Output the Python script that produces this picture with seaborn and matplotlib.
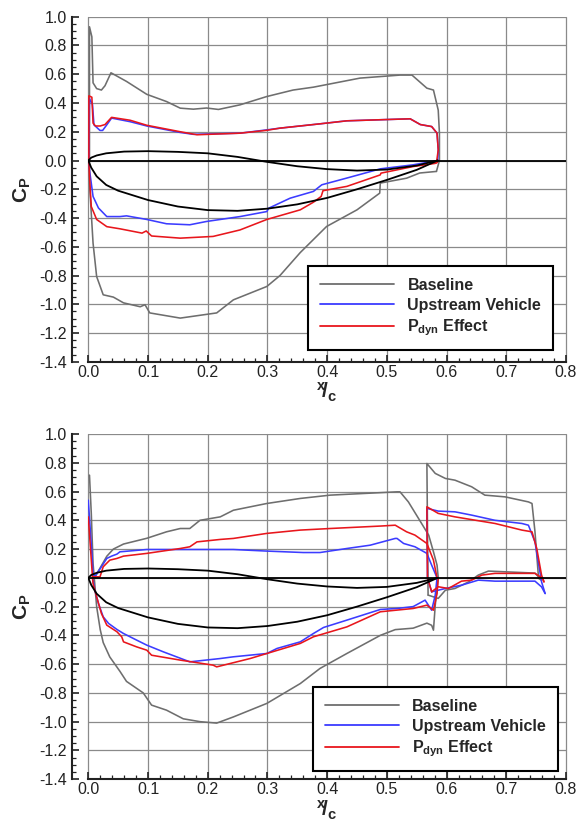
import pandas as pd
import matplotlib
matplotlib.use('Agg')
import matplotlib.pyplot as plt
import seaborn as sns
from matplotlib.lines import Line2D
from matplotlib.ticker import MultipleLocator, FormatStrFormatter

# ---- airfoil outline (first element), same in both panels ----
AF_UP_X = [0.0, 0.005, 0.014, 0.03, 0.06, 0.10, 0.15, 0.20, 0.25, 0.30, 0.35, 0.40, 0.45, 0.50, 0.55, 0.585]
AF_UP_CP = [0.0, 0.02, 0.035, 0.05, 0.062, 0.065, 0.06, 0.05, 0.025, -0.01, -0.04, -0.06, -0.07, -0.063, -0.035, 0.0]
AF_LO_X = [0.0, 0.005, 0.014, 0.03, 0.05, 0.10, 0.15, 0.20, 0.25, 0.30, 0.35, 0.40, 0.45, 0.50, 0.55, 0.585]
AF_LO_CP = [0.0, -0.05, -0.11, -0.17, -0.21, -0.275, -0.32, -0.345, -0.35, -0.335, -0.305, -0.26, -0.2, -0.135, -0.065, 0.0]

# ---- top panel ----
TOP_BASE_UP_X = [0.002, 0.002, 0.006, 0.008, 0.014, 0.022, 0.028, 0.038, 0.064, 0.098, 0.131, 0.154, 0.176, 0.198,
                 0.218, 0.254, 0.299, 0.343, 0.377, 0.455, 0.522, 0.542, 0.567, 0.578, 0.586, 0.588, 0.588, 0.583]
TOP_BASE_UP_CP = [0.0, 0.93, 0.86, 0.54, 0.50, 0.49, 0.52, 0.61, 0.55, 0.46, 0.41, 0.364, 0.357, 0.365,
                  0.355, 0.387, 0.445, 0.49, 0.51, 0.573, 0.594, 0.594, 0.503, 0.49, 0.35, 0.19, 0.0, -0.076]
TOP_BASE_LO_X = [0.002, 0.002, 0.008, 0.014, 0.025, 0.042, 0.059, 0.087, 0.095, 0.103, 0.154, 0.215, 0.243, 0.299,
                 0.321, 0.355, 0.399, 0.45, 0.488, 0.489, 0.533, 0.555, 0.583]
TOP_BASE_LO_CP = [0.0, -0.156, -0.575, -0.807, -0.934, -0.95, -0.99, -1.017, -1.003, -1.06, -1.096, -1.06, -0.969, -0.876,
                  -0.80, -0.64, -0.459, -0.343, -0.227, -0.157, -0.123, -0.087, -0.076]
TOP_UPV_UP_X = [0.001, 0.002, 0.007, 0.0095, 0.0196, 0.024, 0.031, 0.039, 0.07, 0.098, 0.154, 0.176, 0.254, 0.299,
                0.321, 0.388, 0.433, 0.539, 0.556, 0.575, 0.584, 0.586, 0.585]
TOP_UPV_UP_CP = [0.0, 0.43, 0.39, 0.248, 0.209, 0.209, 0.248, 0.295, 0.27, 0.24, 0.195, 0.182, 0.19, 0.213,
                 0.225, 0.255, 0.276, 0.29, 0.25, 0.236, 0.19, 0.074, 0.0]
TOP_UPV_LO_X = [0.001, 0.002, 0.008, 0.017, 0.031, 0.053, 0.064, 0.098, 0.131, 0.17, 0.198, 0.254, 0.299, 0.302,
                0.338, 0.377, 0.391, 0.433, 0.483, 0.489, 0.544, 0.585]
TOP_UPV_LO_CP = [0.0, -0.065, -0.25, -0.33, -0.39, -0.39, -0.385, -0.41, -0.44, -0.447, -0.424, -0.39, -0.355, -0.332,
                 -0.262, -0.215, -0.169, -0.122, -0.065, -0.058, -0.03, 0.0]
TOP_PDYN_UP_X = [0.001, 0.001, 0.006, 0.008, 0.012, 0.02, 0.028, 0.039, 0.07, 0.098, 0.154, 0.182, 0.254, 0.299,
                 0.321, 0.388, 0.433, 0.539, 0.556, 0.575, 0.584, 0.586, 0.583, 0.586]
TOP_PDYN_UP_CP = [0.0, 0.45, 0.44, 0.26, 0.24, 0.24, 0.25, 0.30, 0.28, 0.245, 0.20, 0.179, 0.19, 0.21,
                  0.225, 0.255, 0.276, 0.29, 0.25, 0.236, 0.19, 0.074, -0.018, 0.0]
TOP_PDYN_LO_X = [0.001, 0.002, 0.005, 0.014, 0.031, 0.053, 0.09, 0.097, 0.106, 0.154, 0.209, 0.254, 0.299, 0.355,
                 0.377, 0.39, 0.393, 0.433, 0.489, 0.49, 0.544, 0.581, 0.585]
TOP_PDYN_LO_CP = [0.0, -0.11, -0.32, -0.41, -0.46, -0.475, -0.505, -0.49, -0.525, -0.54, -0.528, -0.483, -0.41, -0.343,
                  -0.29, -0.25, -0.21, -0.18, -0.1, -0.088, -0.042, -0.02, 0.0]

# ---- bottom panel (two elements) ----
BOT_BASE_UP_X = [0.010, 0.020, 0.031, 0.042, 0.059, 0.098, 0.131, 0.154, 0.17, 0.187, 0.221, 0.243, 0.299, 0.355,
                 0.405, 0.517, 0.522, 0.536, 0.553, 0.57, 0.578, 0.584, 0.586]
BOT_BASE_UP_CP = [0.0, 0.07, 0.15, 0.2, 0.235, 0.275, 0.32, 0.343, 0.343, 0.40, 0.424, 0.47, 0.517, 0.552,
                  0.575, 0.598, 0.598, 0.528, 0.413, 0.297, 0.181, 0.088, 0.0]
BOT_BASE_LO_X = [0.002, 0.005, 0.008, 0.011, 0.014, 0.020, 0.025, 0.036, 0.053, 0.064, 0.092, 0.106, 0.131, 0.159,
                 0.187, 0.215, 0.243, 0.299, 0.355, 0.388, 0.433, 0.489, 0.514, 0.544, 0.567, 0.575, 0.578, 0.581, 0.586]
BOT_BASE_LO_CP = [0.714, 0.45, 0.10, -0.05, -0.20, -0.36, -0.45, -0.55, -0.65, -0.72, -0.80, -0.885, -0.92, -0.98,
                  -1.0, -1.01, -0.967, -0.873, -0.735, -0.63, -0.526, -0.40, -0.36, -0.35, -0.315, -0.33, -0.364, -0.19, 0.0]
BOT_BASE2_UP_X = [0.569, 0.567, 0.581, 0.598, 0.614, 0.642, 0.664, 0.698, 0.737, 0.743, 0.748, 0.754, 0.759]
BOT_BASE2_UP_CP = [-0.12, 0.795, 0.726, 0.691, 0.679, 0.633, 0.575, 0.563, 0.528, 0.517, 0.32, -0.004, -0.016]
BOT_BASE2_LO_X = [0.569, 0.586, 0.598, 0.614, 0.637, 0.653, 0.67, 0.748, 0.759]
BOT_BASE2_LO_CP = [-0.12, -0.143, -0.086, -0.074, -0.028, 0.019, 0.047, 0.033, -0.016]

BOT_UPV_UP_X = [0.008, 0.011, 0.022, 0.031, 0.039, 0.048, 0.053, 0.098, 0.154, 0.243, 0.299, 0.36, 0.388, 0.433,
                0.472, 0.514, 0.517, 0.528, 0.547, 0.567, 0.575, 0.584]
BOT_UPV_UP_CP = [0.03, 0.007, 0.077, 0.135, 0.151, 0.165, 0.181, 0.197, 0.197, 0.197, 0.186, 0.176, 0.176, 0.204,
                 0.227, 0.274, 0.274, 0.239, 0.216, 0.17, 0.088, 0.0]
BOT_UPV_LO_X = [0.0, 0.006, 0.008, 0.008, 0.011, 0.017, 0.025, 0.034, 0.048, 0.059, 0.081, 0.098, 0.126, 0.17,
                0.221, 0.243, 0.299, 0.316, 0.355, 0.377, 0.394, 0.433, 0.489, 0.517, 0.544, 0.564, 0.575, 0.581, 0.584]
BOT_UPV_LO_CP = [0.54, 0.17, 0.03, -0.016, -0.086, -0.178, -0.271, -0.317, -0.359, -0.387, -0.433, -0.468, -0.515, -0.584,
                 -0.561, -0.549, -0.526, -0.491, -0.445, -0.387, -0.345, -0.294, -0.22, -0.213, -0.2, -0.155, -0.225, -0.12, 0.0]
BOT_UPV2_UP_X = [0.575, 0.568, 0.567, 0.586, 0.614, 0.642, 0.681, 0.726, 0.737, 0.748, 0.759, 0.765]
BOT_UPV2_UP_CP = [-0.097, 0.0, 0.483, 0.464, 0.459, 0.436, 0.40, 0.378, 0.366, 0.25, -0.028, -0.109]
BOT_UPV2_LO_X = [0.575, 0.598, 0.625, 0.653, 0.681, 0.748, 0.759, 0.765]
BOT_UPV2_LO_CP = [-0.097, -0.074, -0.051, -0.016, -0.023, -0.023, -0.063, -0.109]

BOT_PDYN_UP_X = [0.007, 0.0196, 0.025, 0.036, 0.048, 0.059, 0.098, 0.154, 0.17, 0.182, 0.221, 0.243, 0.299, 0.355,
                 0.405, 0.489, 0.514, 0.533, 0.547, 0.567, 0.578, 0.584]
BOT_PDYN_UP_CP = [0.007, 0.007, 0.077, 0.123, 0.135, 0.151, 0.17, 0.204, 0.216, 0.25, 0.267, 0.274, 0.309, 0.332,
                  0.343, 0.36, 0.366, 0.32, 0.297, 0.239, 0.123, 0.0]
BOT_PDYN_LO_X = [0.0, 0.007, 0.008, 0.014, 0.022, 0.031, 0.048, 0.056, 0.059, 0.081, 0.098, 0.106, 0.154, 0.209,
                 0.215, 0.271, 0.299, 0.355, 0.377, 0.433, 0.489, 0.544, 0.567, 0.578, 0.584, 0.586]
BOT_PDYN_LO_CP = [0.424, 0.007, -0.039, -0.132, -0.248, -0.329, -0.375, -0.41, -0.445, -0.48, -0.503, -0.538, -0.572, -0.607,
                  -0.619, -0.561, -0.526, -0.456, -0.41, -0.341, -0.236, -0.213, -0.19, -0.225, -0.109, 0.0]
BOT_PDYN2_UP_X = [0.575, 0.568, 0.567, 0.586, 0.614, 0.681, 0.726, 0.743, 0.751, 0.759, 0.763]
BOT_PDYN2_UP_CP = [-0.097, 0.0, 0.494, 0.448, 0.424, 0.378, 0.332, 0.32, 0.204, 0.019, -0.028]
BOT_PDYN2_LO_X = [0.575, 0.586, 0.603, 0.625, 0.642, 0.659, 0.681, 0.748, 0.761, 0.763]
BOT_PDYN2_LO_CP = [-0.097, -0.062, -0.074, -0.023, -0.016, 0.019, 0.031, 0.031, -0.004, -0.028]

SERIES = ['Baseline', 'Upstream Vehicle', 'Pdyn Effect']
LABELS = ['Baseline', 'Upstream Vehicle', r'$\mathbf{P_{dyn}}$ Effect']
COLORS = ['#6e6e6e', '#3c3cff', '#e8161c']

TOP_CURVES = [
    ('Baseline', 'up', TOP_BASE_UP_X, TOP_BASE_UP_CP), ('Baseline', 'lo', TOP_BASE_LO_X, TOP_BASE_LO_CP),
    ('Upstream Vehicle', 'up', TOP_UPV_UP_X, TOP_UPV_UP_CP), ('Upstream Vehicle', 'lo', TOP_UPV_LO_X, TOP_UPV_LO_CP),
    ('Pdyn Effect', 'up', TOP_PDYN_UP_X, TOP_PDYN_UP_CP), ('Pdyn Effect', 'lo', TOP_PDYN_LO_X, TOP_PDYN_LO_CP),
]
BOT_CURVES = [
    ('Baseline', 'up', BOT_BASE_UP_X, BOT_BASE_UP_CP), ('Baseline', 'lo', BOT_BASE_LO_X, BOT_BASE_LO_CP),
    ('Baseline', 'up2', BOT_BASE2_UP_X, BOT_BASE2_UP_CP), ('Baseline', 'lo2', BOT_BASE2_LO_X, BOT_BASE2_LO_CP),
    ('Upstream Vehicle', 'up', BOT_UPV_UP_X, BOT_UPV_UP_CP), ('Upstream Vehicle', 'lo', BOT_UPV_LO_X, BOT_UPV_LO_CP),
    ('Upstream Vehicle', 'up2', BOT_UPV2_UP_X, BOT_UPV2_UP_CP), ('Upstream Vehicle', 'lo2', BOT_UPV2_LO_X, BOT_UPV2_LO_CP),
    ('Pdyn Effect', 'up', BOT_PDYN_UP_X, BOT_PDYN_UP_CP), ('Pdyn Effect', 'lo', BOT_PDYN_LO_X, BOT_PDYN_LO_CP),
    ('Pdyn Effect', 'up2', BOT_PDYN2_UP_X, BOT_PDYN2_UP_CP), ('Pdyn Effect', 'lo2', BOT_PDYN2_LO_X, BOT_PDYN2_LO_CP),
]


def to_frame(curves):
    rows = []
    for series, part, xs, cps in curves:
        for i, (x, cp) in enumerate(zip(xs, cps)):
            rows.append({'x': x, 'cp': cp, 'series': series, 'part': part, 'order': i})
    return pd.DataFrame(rows)


def draw_panel(ax, curves, legend_anchor):
    df = to_frame(curves)
    sns.lineplot(data=df, x='x', y='cp', hue='series', hue_order=SERIES, palette=COLORS,
                 units='part', estimator=None, sort=False, lw=1.15, legend=False, ax=ax)
    ax.axhline(0.0, color='black', lw=1.3, zorder=3)
    sns.lineplot(x=AF_UP_X, y=AF_UP_CP, color='black', lw=1.3, sort=False, estimator=None, ax=ax)
    sns.lineplot(x=AF_LO_X, y=AF_LO_CP, color='black', lw=1.3, sort=False, estimator=None, ax=ax)

    ax.set_xlim(0.0, 0.8)
    ax.set_ylim(-1.4, 1.0)
    ax.xaxis.set_major_locator(MultipleLocator(0.1))
    ax.xaxis.set_minor_locator(MultipleLocator(0.02))
    ax.yaxis.set_major_locator(MultipleLocator(0.2))
    ax.yaxis.set_minor_locator(MultipleLocator(0.05))
    ax.xaxis.set_major_formatter(FormatStrFormatter('%.1f'))
    ax.yaxis.set_major_formatter(FormatStrFormatter('%.1f'))
    ax.grid(True, which='major', color='#8a8a8a', lw=0.9)
    for gl in ax.get_xgridlines() + ax.get_ygridlines():
        gl.set_clip_on(False)
    ax.set_axisbelow(True)
    for s in ['top', 'right']:
        ax.spines[s].set_visible(False)
    ax.spines['left'].set_position(('outward', 11.5))
    for s in ['left', 'bottom']:
        ax.spines[s].set_linewidth(1.5)
        ax.spines[s].set_color('#222222')
    ax.tick_params(which='both', direction='in', colors='#222222', labelsize=11.5, labelcolor='#222222')
    ax.tick_params(which='major', length=5, width=1.2)
    ax.tick_params(which='minor', length=3, width=0.9)
    ax.tick_params(axis='y', pad=4)
    ax.tick_params(axis='x', pad=2)

    ax.set_xlabel(r'$^{\mathbf{x}}\!\mathbf{/}_{\mathbf{c}}$', fontsize=15, labelpad=1)
    ax.set_ylabel(r'$\mathbf{C_P}$', fontsize=15, labelpad=4)

    handles = [Line2D([], [], color=c, lw=1.3) for c in COLORS]
    leg = ax.legend(handles, LABELS, loc='lower right', bbox_to_anchor=legend_anchor,
                    prop={'weight': 'bold', 'size': 11.5}, frameon=True, fancybox=False,
                    edgecolor='black', framealpha=1, handlelength=4.6, handletextpad=0.85,
                    borderpad=0.75, labelspacing=0.3, borderaxespad=0)
    leg.get_frame().set_linewidth(1.5)


sns.set_theme(style='ticks')
plt.rcParams['font.family'] = ['Liberation Sans', 'DejaVu Sans']
plt.rcParams['mathtext.fontset'] = 'custom'
plt.rcParams['mathtext.rm'] = 'Liberation Sans'
plt.rcParams['mathtext.it'] = 'Liberation Sans:italic'
plt.rcParams['mathtext.bf'] = 'Liberation Sans:bold'
plt.rcParams['axes.unicode_minus'] = False

fig = plt.figure(figsize=(5.77, 8.27), dpi=100)
ax_top = fig.add_axes([0.153, 0.5625, 0.828, 0.4173])
ax_bot = fig.add_axes([0.153, 0.0578, 0.828, 0.4174])

draw_panel(ax_top, TOP_CURVES, (0.973, 0.034))
draw_panel(ax_bot, BOT_CURVES, (0.983, 0.024))

fig.savefig('out.png', dpi=100)
plt.close(fig)
